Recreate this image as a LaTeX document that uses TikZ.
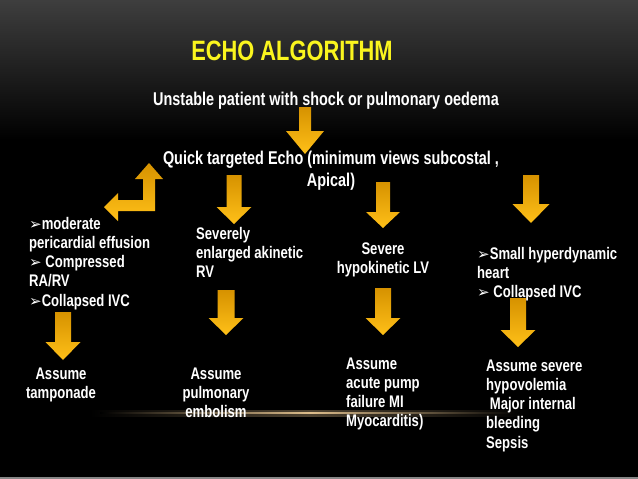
\documentclass[tikz,border=0pt]{standalone}
\usepackage{fontspec}
\setmainfont{Liberation Sans}[FakeStretch=0.78]
\newfontfamily\dv{DejaVu Sans}
\definecolor{arrtop}{RGB}{214,146,0}
\definecolor{arrbot}{RGB}{255,192,24}
\definecolor{ttl}{RGB}{250,245,30}
\definecolor{glow}{RGB}{222,190,140}
\definecolor{topgray}{RGB}{62,62,62}
\definecolor{botgray}{RGB}{135,135,135}
\newcommand\bul{{\dv\fontsize{15}{19.2}\selectfont ➢}}
\newcommand\blockarrow[6]{%
  \path[arrowfill] (#1-#5,#2) -- (#1+#5,#2) -- (#1+#5,#3) -- (#1+#6,#3) -- (#1,#4)
    -- (#1-#6,#3) -- (#1-#5,#3) -- cycle;}
\begin{document}
\begin{tikzpicture}[x=1pt,y=-1pt,
  arrowfill/.style={top color=arrtop, bottom color=arrbot},
  titletxt/.style={text=ttl, inner sep=0pt, font=\fontsize{28}{30}\selectfont\bfseries},
  toptxt/.style={text=white, inner sep=0pt, font=\fontsize{18.5}{22}\selectfont\bfseries},
  bodytxt/.style={text=white, inner sep=0pt, font=\fontsize{16.8}{19.2}\selectfont\bfseries}]
% background
\fill[black] (0,0) rectangle (638,479);
\shade[top color=topgray, bottom color=black] (0,0) rectangle (638,140);
\fill[botgray] (0,476.5) rectangle (638,479);
% glow line
\shade[left color=black, right color=black, middle color=glow!35!black] (90,410) rectangle (530,416);
\shade[left color=black, right color=black, middle color=glow] (100,412.3) rectangle (520,413.7);
% block arrows
\blockarrow{305}{107}{131}{154}{6}{19}
\blockarrow{234}{175}{207}{224}{7.5}{17.5}
\blockarrow{383}{182}{212}{228}{7}{17}
\blockarrow{531}{175}{204}{223}{8}{18.5}
\blockarrow{63}{312}{342}{360}{8}{17.5}
\blockarrow{226}{290}{318}{335}{8.5}{17.5}
\blockarrow{383}{288}{318}{335}{8}{17.5}
\blockarrow{518}{298}{330}{347}{8}{17.5}
% bent arrow
\path[arrowfill] (149,163) -- (163,179) -- (155,179) -- (155,211) -- (118,211) -- (118,221)
  -- (104,207) -- (118,193) -- (118,200) -- (143,200) -- (143,179) -- (135,179) -- cycle;
% texts
\node[titletxt, anchor=base] (title) at (292,60) {ECHO ALGORITHM};
\node[toptxt, anchor=base] (unst) at (326,105) {Unstable patient with shock or pulmonary oedema};
\node[toptxt, anchor=north, align=center] (quick) at (331,149.1)
  {\strut Quick targeted Echo (minimum views subcostal ,\\Apical)};
\node[bodytxt, anchor=north west, align=left] (tamp) at (29,215.6)
  {\strut\bul moderate\\pericardial effusion\\\bul\ Compressed\\RA/RV\\\bul Collapsed IVC};
\node[bodytxt, anchor=north west, align=left] (rv) at (196,225.6)
  {\strut Severely\\enlarged akinetic\\RV};
\node[bodytxt, anchor=north, align=center] (lv) at (383,240.6)
  {\strut Severe\\hypokinetic LV};
\node[bodytxt, anchor=north west, align=left] (hyper) at (477,245.6)
  {\strut\bul Small hyperdynamic\\heart\\\bul\ Collapsed IVC};
\node[bodytxt, anchor=north, align=center] (r1) at (61,365.6)
  {\strut Assume\\tamponade};
\node[bodytxt, anchor=north, align=center] (r2) at (216,365.6)
  {\strut Assume\\pulmonary\\embolism};
\node[bodytxt, anchor=north west, align=left] (r3) at (346,355.6)
  {\strut Assume\\acute pump\\failure MI\\Myocarditis)};
\node[bodytxt, anchor=north west, align=left] (r4) at (486,357.6)
  {\strut Assume severe\\hypovolemia\\\ Major internal\\bleeding\\Sepsis};
\end{tikzpicture}
\end{document}
